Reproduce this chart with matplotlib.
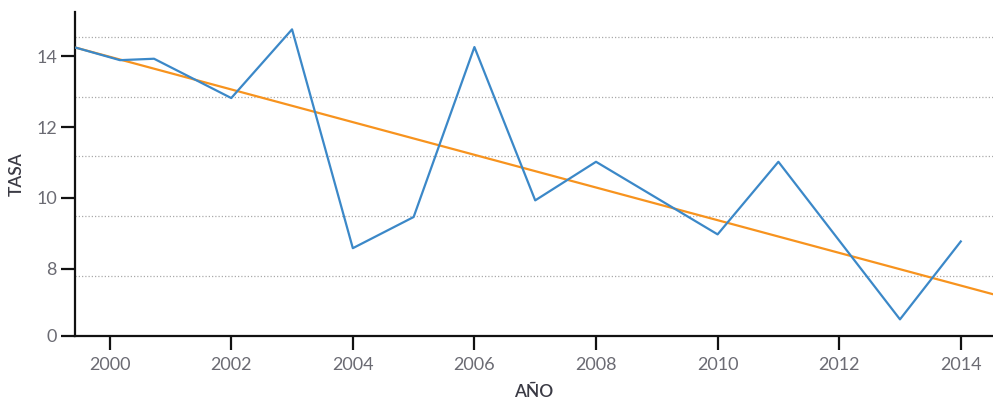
import matplotlib
matplotlib.use('Agg')
import matplotlib.pyplot as plt
import numpy as np

# --- datos ---
anios = [1999.45, 2000.17, 2000.73, 2002, 2003, 2004, 2005, 2006, 2007, 2008, 2010, 2011, 2013, 2014]
tasa = [14.24, 13.89, 13.93, 12.82, 14.76, 8.58, 9.46, 14.26, 9.93, 11.02, 8.97, 11.02, 6.57, 8.77]

# tendencia (extremos)
tendencia_x = [1999.45, 2014.53]
tendencia_y = [14.24, 7.28]

y_ticks = [6.1, 8, 10, 12, 14]
y_labels = ['0', '8', '10', '12', '14']
x_ticks = [2000, 2002, 2004, 2006, 2008, 2010, 2012, 2014]
grid_y = [7.79, 9.48, 11.17, 12.86, 14.55]

plt.rcParams['font.family'] = ['Lato', 'DejaVu Sans']

fig = plt.figure(figsize=(9.93, 4.0), dpi=100)
ax = fig.add_axes([75 / 993, 1 - 336 / 400, 1 - 75 / 993, 324 / 400])

for g in grid_y:
    ax.axhline(g, color='#aaaaaa', linestyle=(0, (1, 1.6)), linewidth=0.9, zorder=1)

ax.plot(tendencia_x, tendencia_y, color='#f7931e', linewidth=1.6, zorder=3)
ax.plot(anios, tasa, color='#3b88c8', linewidth=1.6, zorder=4)

ax.set_xlim(1999.43, 2014.53)
ax.set_ylim(6.1, 15.25)

ax.set_xticks(x_ticks)
ax.set_xticklabels([str(x) for x in x_ticks])
ax.set_yticks(y_ticks)
ax.set_yticklabels(y_labels)

for s in ['top', 'right']:
    ax.spines[s].set_visible(False)
for s in ['left', 'bottom']:
    ax.spines[s].set_linewidth(1.6)
    ax.spines[s].set_color('#111111')

ax.tick_params(axis='both', length=10, width=1.6, color='#111111',
               labelsize=13, labelcolor='#6b6b73')
ax.tick_params(axis='x', pad=5)
ax.tick_params(axis='y', pad=3)

ax.set_xlabel('AÑO', fontsize=12.5, color='#3a3a44', fontweight='semibold', labelpad=8)
ax.set_ylabel('TASA', fontsize=12.5, color='#3a3a44', fontweight='semibold', labelpad=8)

plt.savefig('out.png', dpi=100)
plt.close(fig)
